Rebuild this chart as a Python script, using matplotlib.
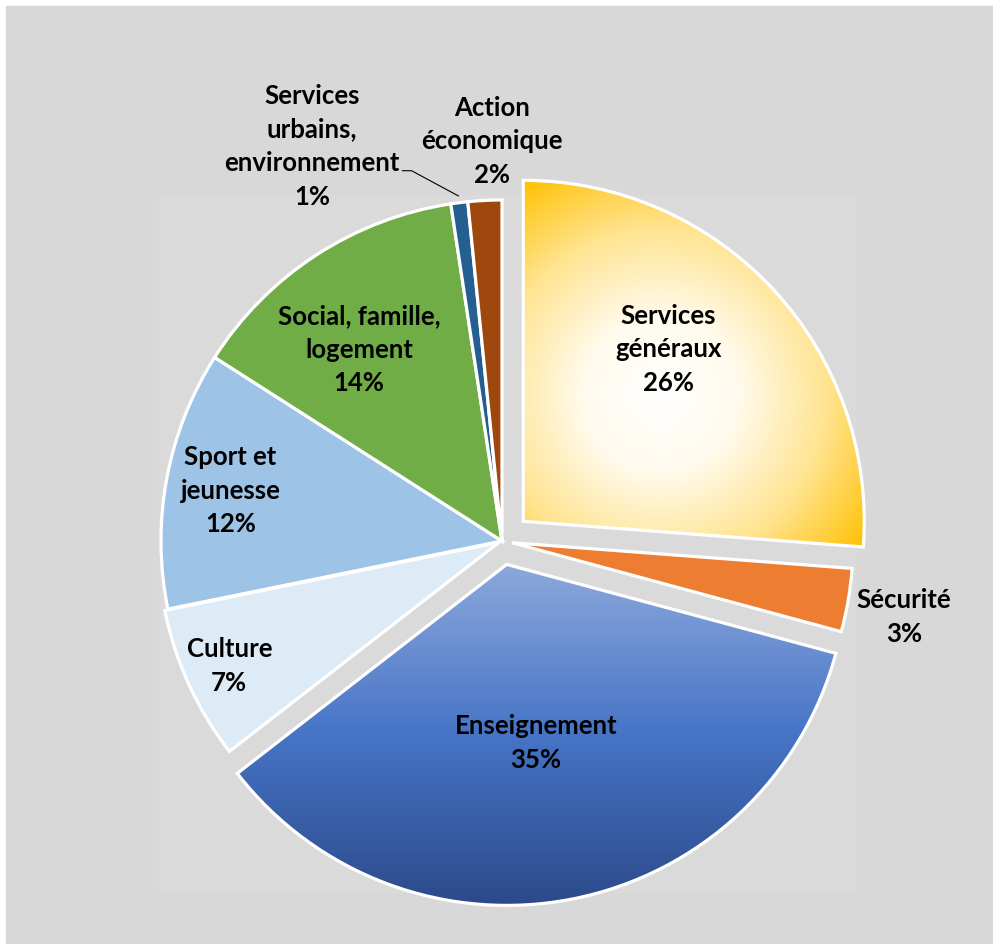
import numpy as np
import matplotlib
matplotlib.use('Agg')
import matplotlib.pyplot as plt
from matplotlib.patches import Rectangle

# ---------------------------------------------------------------
# Données

categories = ['Services\ngénéraux', 'Sécurité', 'Enseignement', 'Culture',
              'Sport et\njeunesse', 'Social, famille,\nlogement',
              'Services\nurbains,\nenvironnement', 'Action\néconomique']
valeurs = [26.2, 3.0, 35.3, 7.3, 12.25, 13.55, 0.8, 1.6]

couleurs = ['#FFC000', '#ED7D31', '#4472C4', '#DDEBF7',
            '#9DC3E6', '#70AD47', '#255E91', '#9E480E']
eclatement = [0.085, 0.03, 0.07, 0.01, 0, 0, 0, 0]

# position des étiquettes : distance au centre, décalage angulaire (deg, sens horaire)
etiq_r = [0.66, 1.17, 0.53, 0.87, 0.81, 0.70, 1.285, 1.173]
etiq_dec = [-7, 1, 2, 0, 0, -3.7, -18.5, 1.5]

# ---------------------------------------------------------------
# Figure

W, H = 993, 944
px = 341.0            # pixels par unité de rayon
cx, cy = 502, 541     # centre du camembert (pixels)

fig = plt.figure(figsize=(W / 100, H / 100), dpi=100)
fig.patch.set_facecolor('white')
fig.add_artist(Rectangle((6 / W, 0), 1, (H - 6) / H, transform=fig.transFigure,
                         color='#D8D8D8', zorder=-10))
fig.add_artist(Rectangle((159 / W, (H - 892) / H), (855 - 159) / W, (892 - 195) / H,
                         transform=fig.transFigure, color='#DADADA', zorder=-9))

ax = fig.add_axes([0, 0, 1, 1])
ax.set_facecolor('none')

wedges, _ = ax.pie(valeurs, colors=couleurs, startangle=90, counterclock=False,
                   explode=eclatement, radius=1,
                   wedgeprops=dict(edgecolor='white', linewidth=2.3))


def degrade(wedge, fonction, ext, n=400):
    ''' Remplit un secteur avec une image clipée '''
    xs = np.linspace(ext[0], ext[1], n)
    ys = np.linspace(ext[2], ext[3], n)
    X, Y = np.meshgrid(xs, ys)
    img = fonction(X, Y)
    im = ax.imshow(img, extent=ext, origin='lower', zorder=0.5, interpolation='bilinear')
    im.set_clip_path(wedge)
    wedge.set_facecolor('none')
    wedge.set_zorder(1)


def interp_couleurs(t, stops, cols):
    cols = np.array(cols, dtype=float) / 255
    out = np.zeros(t.shape + (3,))
    for k in range(3):
        out[..., k] = np.interp(t, stops, cols[:, k])
    return out


# Services généraux : dégradé radial blanc -> or
gx, gy = (660 - cx) / px, (cy - 395) / px
degrade(wedges[0],
        lambda X, Y: interp_couleurs(np.hypot(X - gx, Y - gy) * px / 255,
                                     [0, 0.3, 0.65, 1.0],
                                     [(255, 255, 255), (255, 251, 238),
                                      (255, 228, 145), (255, 192, 0)]),
        (-0.05, 1.25, -0.25, 1.25))

# Enseignement : dégradé vertical bleu clair -> bleu foncé
degrade(wedges[2],
        lambda X, Y: interp_couleurs(cy - Y * px,
                                     [560, 735, 905],
                                     [(143, 170, 220), (70, 116, 198), (44, 74, 138)]),
        (-0.85, 1.05, -1.15, 0.0))

# Étiquettes
for w, cat, v, r, dec in zip(wedges, categories, valeurs, etiq_r, etiq_dec):
    ang = np.deg2rad((w.theta1 + w.theta2) / 2 - dec)
    x = w.center[0] + r * np.cos(ang)
    y = w.center[1] + r * np.sin(ang)
    pct = v / sum(valeurs) * 100
    ax.text(x, y, f'{cat}\n{pct:.0f}%', ha='center', va='center',
            multialignment='center', fontsize=18.5, fontweight='bold',
            family='Lato', color='black', linespacing=1.48, zorder=5)

# Ligne de rappel pour "Services urbains"
w = wedges[6]
ang = np.deg2rad((w.theta1 + w.theta2) / 2)
ang_l = np.deg2rad((w.theta1 + w.theta2) / 2 - etiq_dec[6])
lx, ly = etiq_r[6] * np.cos(ang_l), etiq_r[6] * np.sin(ang_l)
ax.plot([lx + 0.265, lx + 0.292, 1.02 * np.cos(ang)],
        [ly - 0.072, ly - 0.072, 1.02 * np.sin(ang)],
        color='black', linewidth=0.8, zorder=4)

ax.set_xlim(-cx / px, (W - cx) / px)
ax.set_ylim(-(H - cy) / px, cy / px)
ax.set_aspect('equal', adjustable='box')
ax.axis('off')

fig.savefig('out.png', dpi=100)
